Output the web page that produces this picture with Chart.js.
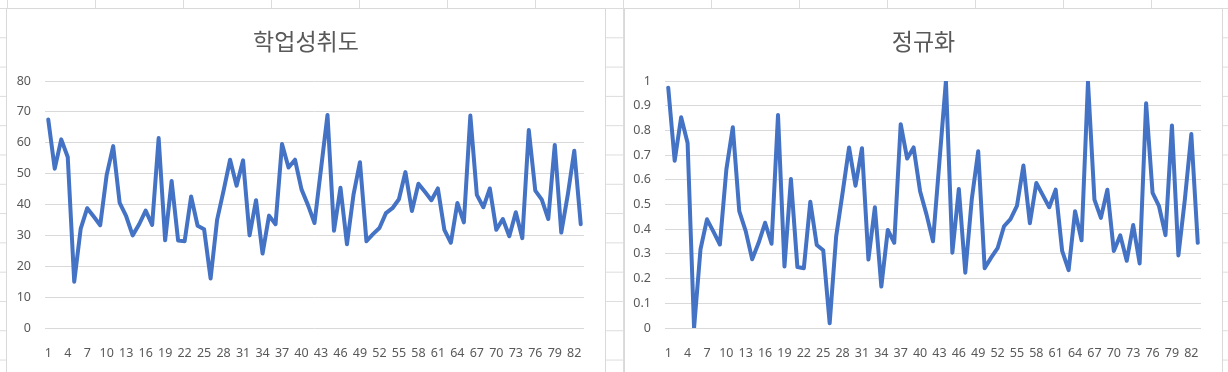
<!DOCTYPE html>
<html>
<head>
<meta charset="utf-8">
<script src="https://cdn.jsdelivr.net/npm/chart.js@4.4.0/dist/chart.umd.min.js"></script>
<style>
body {
  margin: 0; width: 1228px; height: 372px; overflow: hidden; position: relative;
  background-color: #fff;
  background-image: linear-gradient(#dcdcdc 1px, transparent 1px), linear-gradient(90deg, #dcdcdc 1px, transparent 1px);
  background-size: 88px 29.3px;
  background-position: 7px 8px;
}
.panel { position: absolute; top: 8px; height: 400px; background: #fff; border: 1px solid #d9d9d9; box-sizing: border-box; }
canvas { position: absolute; top: 8px; }
</style>
</head>
<body>
<div class="panel" style="left:6px;width:600px"></div>
<div class="panel" style="left:624px;width:599px"></div>
<canvas id="score" width="600" height="364" style="left:6px"></canvas>
<canvas id="norm" width="599" height="364" style="left:624px"></canvas>
<script>
// x categories: student number 1..83
const categories = Array.from({length: 83}, (_, i) => String(i + 1));
// only every third category gets a label, like the excel axis
const shownX = [1, 4, 7, 10, 13, 16, 19, 22, 25, 28, 31, 34, 37, 40, 43, 46, 49, 52, 55, 58, 61, 64, 67, 70, 73, 76, 79, 82];

// 학업성취도
const scores = [
  67.5, 51.6, 61.1, 55.4, 15.0, 32.2, 38.8, 36.1, 33.3, 49.6,
  58.9, 40.5, 36.2, 30.0, 33.6, 38.0, 33.4, 61.5, 28.4, 47.6,
  28.3, 28.1, 42.6, 33.1, 32.0, 16.0, 35.0, 44.5, 54.5, 46.1,
  54.3, 30.0, 41.4, 24.1, 36.4, 33.6, 59.6, 52.0, 54.5, 44.9,
  39.8, 34.0, 51.5, 69.0, 31.5, 45.4, 27.1, 43.1, 53.7, 28.1,
  30.4, 32.4, 37.2, 38.8, 41.7, 50.5, 37.9, 46.7, 44.1, 41.4,
  45.2, 31.8, 27.6, 40.5, 34.2, 68.8, 43.1, 39.1, 45.2, 31.8,
  35.3, 29.7, 37.5, 29.1, 64.1, 44.5, 41.6, 35.3, 59.3, 30.9,
  43.1, 57.4, 33.6
];

// 정규화
const normalized = [
  0.973, 0.677, 0.853, 0.749, 0.000, 0.319, 0.440, 0.390, 0.338, 0.641,
  0.813, 0.473, 0.392, 0.278, 0.345, 0.426, 0.341, 0.862, 0.249, 0.603,
  0.247, 0.242, 0.511, 0.336, 0.315, 0.019, 0.370, 0.547, 0.731, 0.576,
  0.728, 0.277, 0.489, 0.168, 0.397, 0.345, 0.825, 0.686, 0.731, 0.554,
  0.459, 0.351, 0.675, 1.000, 0.305, 0.563, 0.224, 0.520, 0.716, 0.242,
  0.285, 0.323, 0.412, 0.441, 0.494, 0.658, 0.424, 0.587, 0.538, 0.489,
  0.560, 0.312, 0.234, 0.473, 0.355, 0.996, 0.520, 0.446, 0.560, 0.312,
  0.375, 0.272, 0.417, 0.261, 0.910, 0.547, 0.493, 0.376, 0.820, 0.294,
  0.520, 0.785, 0.345
];

const scoreTicks = ['0', '10', '20', '30', '40', '50', '60', '70', '80'];
const normTicks = ['0', '0.1', '0.2', '0.3', '0.4', '0.5', '0.6', '0.7', '0.8', '0.9', '1'];

const tickFont = { family: 'Noto Sans', size: 12.5 };
const textColor = '#595959';

function makeChart(id, title, values, yMax, yStep, yLabels, yWidth) {
  const ctx = document.getElementById(id);
  return new Chart(ctx, {
    type: 'line',
    data: {
      labels: categories,
      datasets: [{
        data: values,
        borderColor: '#4472C4',
        borderWidth: 4,
        pointRadius: 0,
        tension: 0,
        borderJoinStyle: 'round',
        borderCapStyle: 'round',
        fill: false
      }]
    },
    options: {
      responsive: false,
      animation: false,
      layout: { padding: 0 },
      plugins: {
        legend: { display: false },
        tooltip: { enabled: false },
        title: {
          display: true,
          text: title,
          color: textColor,
          font: { family: 'Noto Sans CJK KR', size: 23, weight: 'normal' },
          padding: { top: 19, bottom: 26.4 }
        }
      },
      scales: {
        x: {
          type: 'category',
          offset: true,
          grid: { display: false },
          border: { display: false },
          ticks: {
            autoSkip: false, maxRotation: 0, minRotation: 0,
            padding: 10, color: textColor, font: tickFont,
            callback: function(v, i) {
              return shownX.includes(i + 1) ? categories[i] : '';
            }
          },
          afterFit: function(s) { s.height = 44; }
        },
        y: {
          min: 0, max: yMax,
          grid: { color: '#d9d9d9', lineWidth: 1, drawTicks: false },
          border: { display: false },
          ticks: {
            stepSize: yStep, padding: 14, color: textColor, font: tickFont,
            callback: function(v) { return yLabels[Math.round(v / yStep)]; }
          },
          afterFit: function(s) { s.width = yWidth; }
        },
        // empty right-hand strip so the plot ends where excel's does
        yRight: {
          axis: 'y', position: 'right',
          grid: { display: false }, border: { display: false },
          ticks: { display: false },
          afterFit: function(s) { s.width = 22; }
        }
      }
    }
  });
}

makeChart('score', '학업성취도', scores, 80, 10, scoreTicks, 39);
makeChart('norm', '정규화', normalized, 1, 0.1, normTicks, 41);
</script>
</body>
</html>
